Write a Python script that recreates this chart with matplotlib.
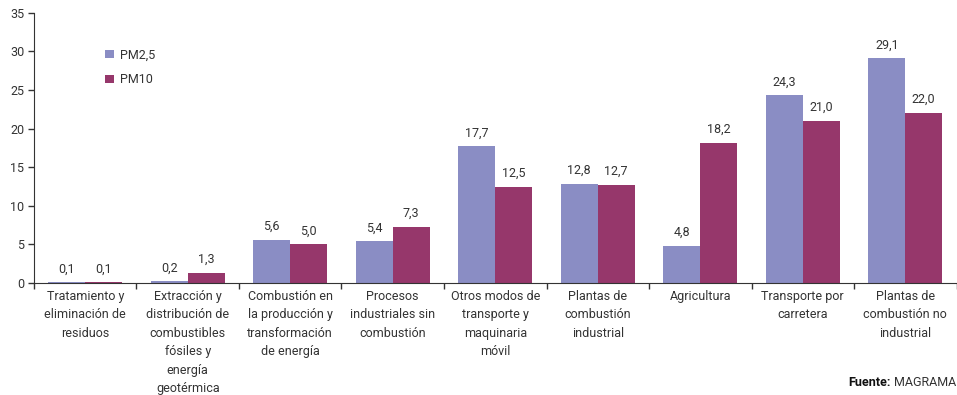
import matplotlib.pyplot as plt
import numpy as np

plt.rcParams['font.family'] = ['Roboto', 'DejaVu Sans']

categorias = ['Tratamiento y\neliminación de\nresiduos',
              'Extracción y\ndistribución de\ncombustibles\nfósiles y\nenergía\ngeotérmica',
              'Combustión en\nla producción y\ntransformación\nde energía',
              'Procesos\nindustriales sin\ncombustión',
              'Otros modos de\ntransporte y\nmaquinaria\nmóvil',
              'Plantas de\ncombustión\nindustrial',
              'Agricultura',
              'Transporte por\ncarretera',
              'Plantas de\ncombustión no\nindustrial']
pm25 = [0.1, 0.2, 5.6, 5.4, 17.7, 12.8, 4.8, 24.3, 29.1]
pm10 = [0.1, 1.3, 5.0, 7.3, 12.5, 12.7, 18.2, 21.0, 22.0]

c_pm25 = '#8A8DC4'
c_pm10 = '#96376B'
gris = '#333333'

fig = plt.figure(figsize=(9.57, 3.95), dpi=100)
ax = fig.add_axes([0.0355, 0.2835, 0.964, 0.684])

x = np.arange(len(categorias))
w = 0.36
b1 = ax.bar(x - w/2, pm25, w, color=c_pm25, label='PM2,5')
b2 = ax.bar(x + w/2, pm10, w, color=c_pm10, label='PM10')

for bars in (b1, b2):
    for r in bars:
        v = r.get_height()
        ax.text(r.get_x() + r.get_width()/2, v + 0.9, f'{v:.1f}'.replace('.', ','),
                ha='center', va='bottom', fontsize=9, color=gris)

ax.set_xlim(-0.5, len(categorias) - 0.5)
ax.set_ylim(0, 35)
ax.set_yticks(range(0, 36, 5))
ax.set_xticks(np.arange(len(categorias) + 1) - 0.5)
ax.set_xticklabels([])
ax.set_xticks(x, minor=True)
ax.set_xticklabels(categorias, minor=True, fontsize=9, color=gris, linespacing=1.55, va='top')
ax.tick_params(axis='x', which='minor', length=0, pad=5)
ax.tick_params(axis='x', which='major', length=4, width=1, color=gris)
ax.tick_params(axis='y', length=4, width=1, color=gris, labelsize=9, labelcolor=gris, pad=3)

for s in ['top', 'right']:
    ax.spines[s].set_visible(False)
ax.spines['left'].set_color(gris)
ax.spines['bottom'].set_color(gris)

ax.legend(loc='upper left', bbox_to_anchor=(0.065, 0.91), frameon=False, fontsize=9,
          handlelength=0.7, handleheight=0.7, handletextpad=0.5, labelspacing=0.95,
          labelcolor=gris)

fig.text(0.999, 0.015, 'MAGRAMA', ha='right', va='bottom', fontsize=9, color=gris)
fig.text(0.931, 0.015, 'Fuente:', ha='right', va='bottom', fontsize=9, color='#111111',
         fontweight='bold')

fig.savefig('out.png', dpi=100)
